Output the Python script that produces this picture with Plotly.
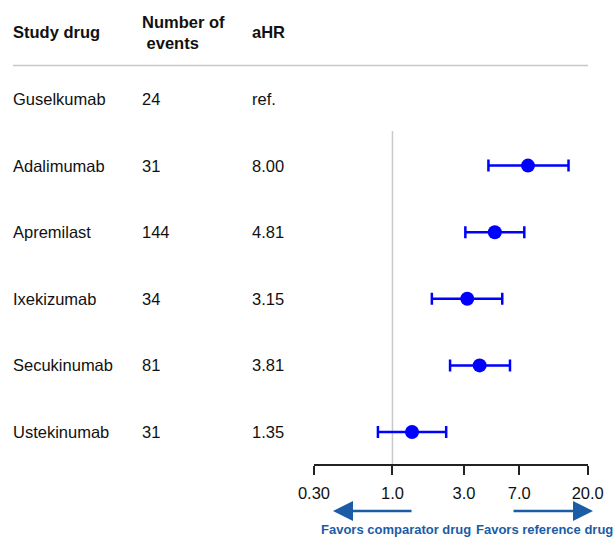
import math
import plotly.graph_objects as go

# Table / forest plot data
drugs = ["Guselkumab", "Adalimumab", "Apremilast", "Ixekizumab", "Secukinumab", "Ustekinumab"]
events = [24, 31, 144, 34, 81, 31]
ahr_labels = ["ref.", "8.00", "4.81", "3.15", "3.81", "1.35"]
ahr = [None, 8.00, 4.81, 3.15, 3.81, 1.35]
ci_low = [None, 4.36, 3.06, 1.83, 2.42, 0.80]
ci_high = [None, 14.9, 7.56, 5.39, 6.07, 2.28]

tick_vals = [0.3, 1.0, 3.0, 7.0, 20.0]
tick_text = ["0.30", "1.0", "3.0", "7.0", "20.0"]

W, H = 613, 537
FONT = "Arial, 'Liberation Sans', sans-serif"
TEXT = "#111111"
BLUE = "#0000FF"
NAVY = "#1a5ca6"
FS = 16.5

def px_x(p):
    return p / W

def px_y(p):
    return 1 - p / H

rows = list(range(len(drugs)))
fig = go.Figure()

# point estimates with confidence intervals (reference drug has none)
idx = [i for i in rows if ahr[i] is not None]
fig.add_trace(go.Scatter(
    x=[ahr[i] for i in idx],
    y=idx,
    mode="markers",
    marker=dict(color=BLUE, size=14),
    error_x=dict(
        type="data",
        symmetric=False,
        array=[ci_high[i] - ahr[i] for i in idx],
        arrayminus=[ahr[i] - ci_low[i] for i in idx],
        color=BLUE,
        thickness=2.5,
        width=6,
    ),
    hoverinfo="skip",
    showlegend=False,
))

annotations = []
col_x = [11, 140, 250]

# header
annotations.append(dict(x=px_x(col_x[0]), y=-1, xref="paper", yref="y", text="<b>Study drug</b>",
                        showarrow=False, xanchor="left", yanchor="middle",
                        font=dict(family=FONT, size=FS, color=TEXT)))
annotations.append(dict(x=px_x(col_x[1]), y=-1, xref="paper", yref="y",
                        text="<b>Number of</b><br><b> events</b>",
                        showarrow=False, xanchor="left", yanchor="middle", align="left",
                        font=dict(family=FONT, size=FS, color=TEXT)))
annotations.append(dict(x=px_x(col_x[2]), y=-1, xref="paper", yref="y", text="<b>aHR</b>",
                        showarrow=False, xanchor="left", yanchor="middle",
                        font=dict(family=FONT, size=FS, color=TEXT)))

# table rows
for i in rows:
    for cx, txt in zip(col_x, [drugs[i], str(events[i]), ahr_labels[i]]):
        annotations.append(dict(x=px_x(cx), y=i, xref="paper", yref="y", text=txt,
                                showarrow=False, xanchor="left", yanchor="middle",
                                font=dict(family=FONT, size=FS, color=TEXT)))

# direction arrows and captions
annotations.append(dict(x=px_x(333), y=px_y(511), xref="paper", yref="paper", text="",
                        showarrow=True, ax=80, ay=0, arrowhead=2, arrowsize=1.6,
                        arrowwidth=2.5, arrowcolor=NAVY, standoff=0))
annotations.append(dict(x=px_x(593), y=px_y(511), xref="paper", yref="paper", text="",
                        showarrow=True, ax=-81, ay=0, arrowhead=2, arrowsize=1.6,
                        arrowwidth=2.5, arrowcolor=NAVY, standoff=0))
annotations.append(dict(x=px_x(396), y=px_y(529), xref="paper", yref="paper",
                        text="<b>Favors comparator drug</b>", showarrow=False,
                        xanchor="center", yanchor="middle",
                        font=dict(family=FONT, size=13, color=NAVY)))
annotations.append(dict(x=px_x(544), y=px_y(529), xref="paper", yref="paper",
                        text="<b>Favors reference drug</b>", showarrow=False,
                        xanchor="center", yanchor="middle",
                        font=dict(family=FONT, size=13, color=NAVY)))

shapes = [
    # header separator
    dict(type="line", xref="paper", yref="paper", x0=px_x(13), x1=px_x(588),
         y0=px_y(65.5), y1=px_y(65.5), line=dict(color="#c8c8c8", width=1.5)),
    # null-effect reference line
    dict(type="line", xref="x", yref="paper", x0=1.0, x1=1.0,
         y0=px_y(465), y1=px_y(131), line=dict(color="#c8c8c8", width=1.5), layer="below"),
]

# row index -> pixel: row 0 at y=99, spacing 66.6 px
row0, step = 99.0, 66.6
y_top = -row0 / step
y_bot = (H - row0) / step

fig.update_layout(
    width=W, height=H,
    autosize=False,
    margin=dict(l=0, r=0, t=0, b=0, pad=0),
    paper_bgcolor="white", plot_bgcolor="white",
    annotations=annotations,
    shapes=shapes,
    xaxis=dict(
        type="log",
        range=[math.log10(0.3), math.log10(20)],
        domain=[px_x(314), px_x(587.7)],
        anchor="free", position=px_y(465),
        automargin=False,
        showgrid=False, zeroline=False,
        showline=True, linecolor="#222222", linewidth=1.5,
        ticks="outside", ticklen=9, tickwidth=1.5, tickcolor="#222222",
        tickvals=tick_vals, ticktext=tick_text,
        ticklabelstandoff=4,
        tickfont=dict(family=FONT, size=FS, color=TEXT),
    ),
    yaxis=dict(
        range=[y_bot, y_top], domain=[0, 1],
        automargin=False,
        showgrid=False, zeroline=False, showline=False, showticklabels=False,
    ),
)

fig.write_html("out.html")
